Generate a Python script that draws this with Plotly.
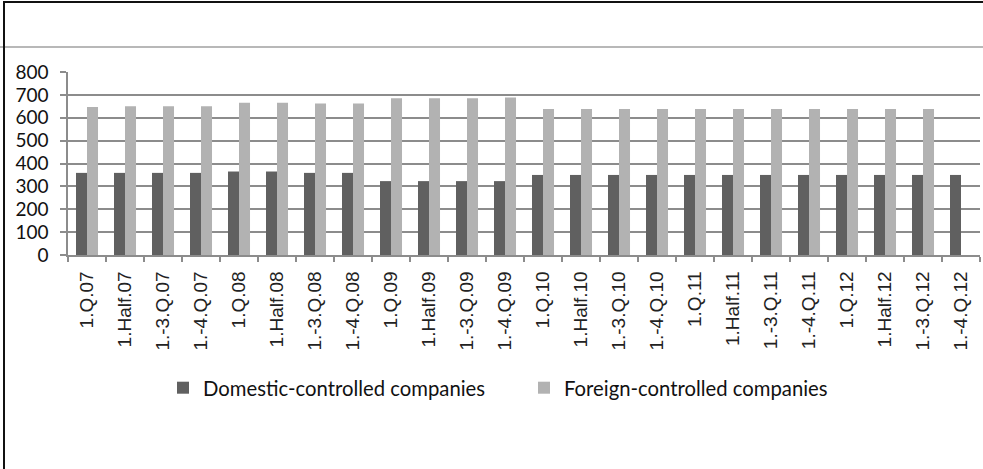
import plotly.graph_objects as go

categories = ["1.Q.07", "1.Half.07", "1.-3.Q.07", "1.-4.Q.07",
              "1.Q.08", "1.Half.08", "1.-3.Q.08", "1.-4.Q.08",
              "1.Q.09", "1.Half.09", "1.-3.Q.09", "1.-4.Q.09",
              "1.Q.10", "1.Half.10", "1.-3.Q.10", "1.-4.Q.10",
              "1.Q.11", "1.Half.11", "1.-3.Q.11", "1.-4.Q.11",
              "1.Q.12", "1.Half.12", "1.-3.Q.12", "1.-4.Q.12"]
domestic = [359, 359, 359, 359, 365, 365, 359, 359, 323, 323, 323, 323,
            350, 350, 350, 350, 350, 350, 350, 350, 350, 350, 350, 350]
foreign = [647, 650, 650, 650, 666, 666, 662, 662, 685, 685, 685, 688,
           638, 638, 638, 638, 638, 638, 638, 638, 638, 638, 638, None]
y_ticks = [0, 100, 200, 300, 400, 500, 600, 700, 800]

W, H = 983, 469
ML, MR, MT, MB = 68, 3, 72, 214
PW, PH = W - ML - MR, H - MT - MB

def px_x(x):
    return (x - ML) / PW

def px_y(y):
    return (H - MB - y) / PH

fig = go.Figure()
fig.add_trace(go.Bar(x=categories, y=domestic, name="Domestic-controlled companies",
                     marker=dict(color="#606060", line=dict(width=0))))
fig.add_trace(go.Bar(x=categories, y=foreign, name="Foreign-controlled companies",
                     marker=dict(color="#b2b2b2", line=dict(width=0))))

axis_col = "#8c8c8c"
fig.update_layout(
    width=W, height=H,
    margin=dict(l=ML, r=MR, t=MT, b=MB, pad=0, autoexpand=False),
    paper_bgcolor="white", plot_bgcolor="white",
    barmode="group", bargap=0.42, bargroupgap=0,
    showlegend=True,
    legend=dict(orientation="h", x=px_x(524), xanchor="center", y=px_y(388), yanchor="middle",
                font=dict(family="Lato, Liberation Sans, sans-serif", size=20.3, color="#111"),
                entrywidth=316, entrywidthmode="pixels", bgcolor="rgba(0,0,0,0)"),
    xaxis=dict(type="category", tickangle=-90, ticks="outside", tickson="boundaries",
               ticklen=5, tickcolor=axis_col, tickwidth=1.5, automargin=False,
               ticklabelstandoff=7,
               showline=True, linecolor=axis_col, linewidth=1.5, showgrid=False,
               tickfont=dict(family="Liberation Sans, Arial, sans-serif", size=19, color="#222")),
    yaxis=dict(range=[0, 800], tickvals=y_ticks, ticks="outside", ticklen=6,
               tickcolor=axis_col, tickwidth=1.5, automargin=False,
               ticklabelstandoff=8,
               showline=True, linecolor=axis_col, linewidth=1.5,
               showgrid=True, gridcolor=axis_col, gridwidth=1.6, zeroline=False,
               tickfont=dict(family="Lato, Liberation Sans, sans-serif", size=19, color="#111")),
    shapes=[
        dict(type="line", xref="paper", yref="paper", x0=px_x(0), x1=px_x(W), y0=px_y(47), y1=px_y(47),
             line=dict(color="#a0a0a0", width=1.5)),
        dict(type="line", xref="paper", yref="paper", x0=px_x(3), x1=px_x(W), y0=px_y(2), y1=px_y(2),
             line=dict(color="#111", width=2)),
        dict(type="line", xref="paper", yref="paper", x0=px_x(4), x1=px_x(4), y0=px_y(2), y1=px_y(H),
             line=dict(color="#111", width=2)),
    ],
)

fig.write_html("out.html", config={"displayModeBar": False},
               post_script="document.body.style.margin='0px';document.body.style.overflow='hidden';")
